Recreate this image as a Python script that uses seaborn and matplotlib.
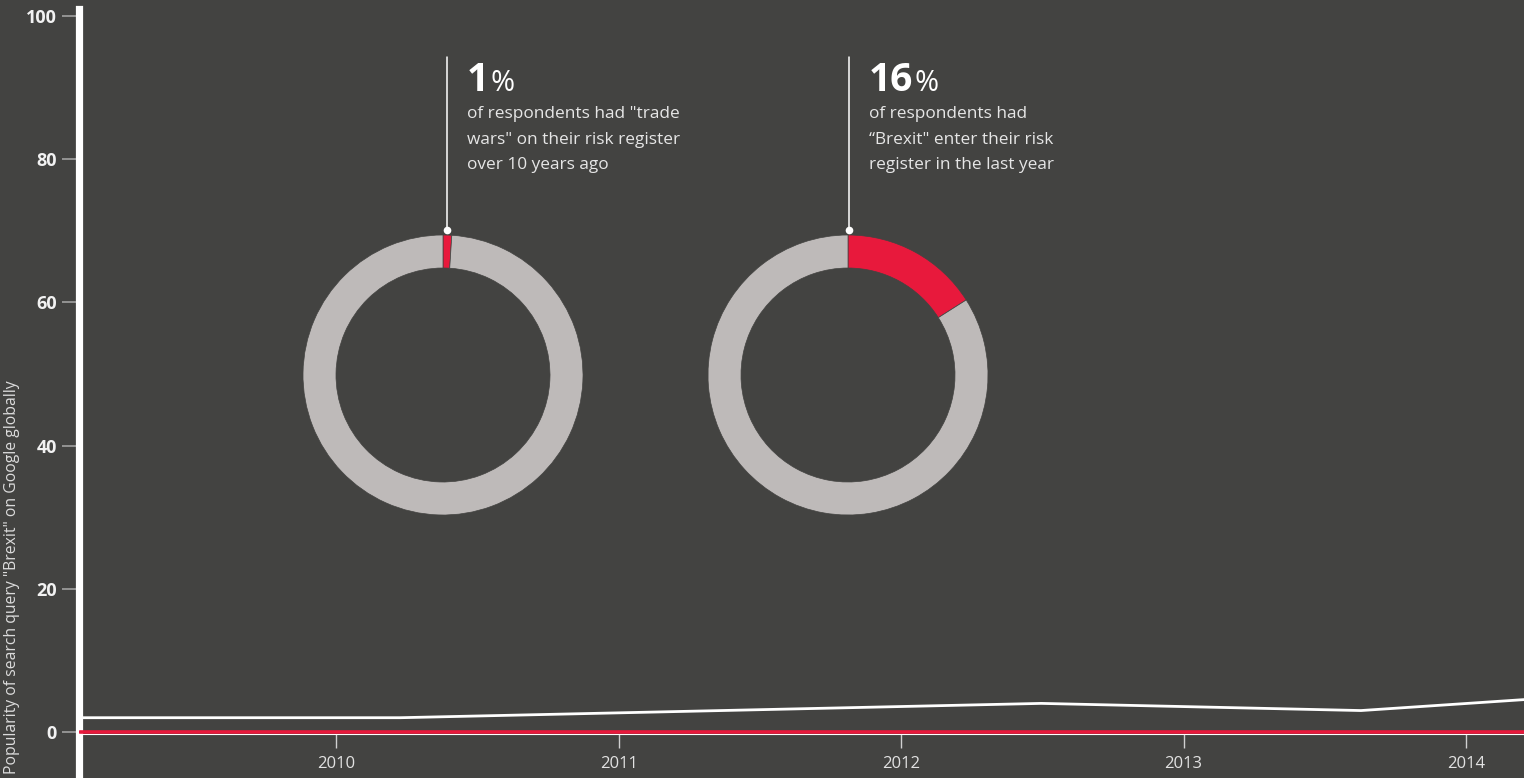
import matplotlib
matplotlib.use("Agg")
import numpy as np
import pandas as pd
import matplotlib.pyplot as plt
import seaborn as sns

# Relative Google search interest (0-100 index) at sampled dates
years = [2009.094, 2010.227, 2011.363, 2012.496, 2013.628, 2014.761]
brexit_interest = [2, 2, 3, 4, 3, 6]
trade_wars_interest = [0, 0, 0, 0, 0, 0]

year_ticks = [2010, 2011, 2012, 2013, 2014]
value_ticks = [0, 20, 40, 60, 80, 100]

# Survey shares shown as rings
donut_shares = [1, 16]
donut_numbers = ["1", "16"]
donut_captions = [
    ['of respondents had "trade', 'wars" on their risk register', "over 10 years ago"],
    ["of respondents had", "\u201cBrexit\" enter their risk", "register in the last year"],
]

y_label = 'Popularity of search query "Brexit" on Google globally'

# ---- styling -------------------------------------------------------------
W, H, DPI = 1524, 778, 100
BG = "#434341"
RED = "#e8193c"
RING = "#bebab9"
WHITE = "#ffffff"

sns.set_theme(style="white", rc={"xtick.bottom": True, "ytick.left": True})
plt.rcParams["font.family"] = ["Open Sans", "DejaVu Sans"]

fig = plt.figure(figsize=(W / DPI, H / DPI), dpi=DPI, facecolor=BG)

# main time-series axes
ax = fig.add_axes([79 / W, 0, 1 - 79 / W, 1 - 9 / H])
ax.set_facecolor(BG)

df = pd.DataFrame({
    "year": years + years,
    "value": brexit_interest + trade_wars_interest,
    "series": ["Brexit"] * len(years) + ["Trade wars"] * len(years),
})
sns.lineplot(data=df[df.series == "Brexit"], x="year", y="value",
             color=WHITE, linewidth=2.0, ax=ax, legend=False, zorder=3)
sns.lineplot(data=df[df.series == "Trade wars"], x="year", y="value",
             color=RED, linewidth=2.6, ax=ax, legend=False, zorder=3)

ax.set_xlim(2009.090, 2014.205)
ax.set_ylim(-6.42, 100.98)
ax.set_xlabel("")
ax.set_ylabel("")

for side in ("top", "right"):
    ax.spines[side].set_visible(False)
ax.spines["left"].set_color(WHITE)
ax.spines["left"].set_linewidth(5.2)
ax.spines["bottom"].set_position(("data", -0.3))
ax.spines["bottom"].set_color(WHITE)
ax.spines["bottom"].set_linewidth(0.8)

ax.set_xticks(year_ticks)
ax.set_xticklabels([str(y) for y in year_ticks])
ax.set_yticks(value_ticks)
ax.set_yticklabels([str(v) for v in value_ticks])
ax.xaxis.set_ticks_position("bottom")
ax.yaxis.set_ticks_position("left")
ax.tick_params(axis="x", which="major", direction="out", length=10, width=1.0,
               color="#d0d0d0", pad=6, labelsize=12, labelcolor="#e2e2e2",
               bottom=True)
ax.tick_params(axis="y", which="major", direction="out", length=12.2, width=1.1,
               color="#a9a9a9", pad=3.6, labelsize=13, labelcolor="#f2f2f2",
               left=True)
for lab in ax.get_yticklabels():
    lab.set_fontweight("bold")
ax.grid(False)

fig.text(12 / W, 4 / H, y_label, rotation=90, ha="center", va="bottom",
         fontsize=11.3, color="#dcdcdc")

# ---- donuts ----------------------------------------------------------------
R, ring_w = 140, 33
centers = [(443, 375), (848, 375)]
pointer_dx = [4, 1]

for (cx, cy), share in zip(centers, donut_shares):
    dax = fig.add_axes([(cx - R) / W, (H - cy - R) / H, 2 * R / W, 2 * R / H])
    dax.pie([share, 100 - share], colors=[RED, RING], startangle=90,
            counterclock=False, radius=1,
            wedgeprops=dict(width=ring_w / R, edgecolor=BG, linewidth=0.5))
    dax.set_xlim(-1, 1)
    dax.set_ylim(-1, 1)
    dax.axis("off")

# annotation layer in pixel coordinates
ov = fig.add_axes([0, 0, 1, 1])
ov.set_xlim(0, W)
ov.set_ylim(H, 0)
ov.axis("off")
ov.patch.set_alpha(0)

renderer = fig.canvas.get_renderer()
for (cx, cy), dx, num, caption in zip(centers, pointer_dx, donut_numbers, donut_captions):
    px = cx + dx
    top = cy - R
    ov.plot([px, px], [57, top - 5], color=WHITE, linewidth=1.1)
    ov.plot([px], [top - 5], marker="o", markersize=5.5, color=WHITE,
            markeredgewidth=0)
    tx = px + 20
    num_txt = ov.text(tx, 91, num, fontsize=28, fontweight="bold",
                      color=WHITE, ha="left", va="baseline")
    bb = num_txt.get_window_extent(renderer=renderer)
    ov.text(bb.x1 + 1, 91, "%", fontsize=21, color=WHITE,
            ha="left", va="baseline")
    for i, line in enumerate(caption):
        ov.text(tx, 118 + i * 25.5, line, fontsize=12.4, color="#e6e6e6",
                ha="left", va="baseline")

fig.savefig("out.png", dpi=DPI, facecolor=BG)
